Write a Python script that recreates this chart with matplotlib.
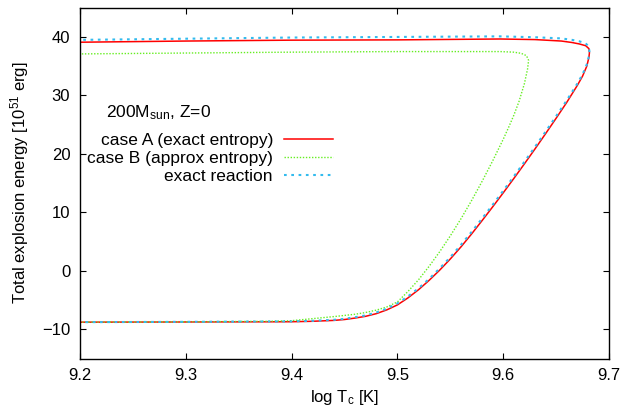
import matplotlib
matplotlib.use("Agg")
import matplotlib.pyplot as plt

plt.rcParams['font.family'] = ['Liberation Sans', 'DejaVu Sans']
plt.rcParams['mathtext.fontset'] = 'custom'
plt.rcParams['mathtext.rm'] = 'Liberation Sans'
plt.rcParams['mathtext.it'] = 'Liberation Sans:italic'

# case A (exact entropy): collapse along the bottom, bounce at the tip, expand along the top
logT_a = [9.15, 9.2, 9.3, 9.40, 9.42, 9.44, 9.45, 9.46, 9.47, 9.48, 9.49, 9.50,
          9.51, 9.52, 9.53, 9.54, 9.55, 9.56, 9.57, 9.58, 9.59, 9.60, 9.61, 9.62,
          9.63, 9.64, 9.65, 9.66, 9.67, 9.675, 9.679, 9.681, 9.6815, 9.681, 9.678,
          9.672, 9.665, 9.655, 9.630, 9.597, 9.5, 9.4, 9.3, 9.2, 9.15]
E_a = [-8.75, -8.75, -8.72, -8.68, -8.6, -8.45, -8.3, -8.05, -7.75, -7.3, -6.65, -5.8,
       -4.6, -3.2, -1.6, 0.15, 2.05, 4.1, 6.3, 8.6, 10.95, 13.35, 15.8, 18.3,
       20.85, 23.45, 26.1, 28.8, 31.7, 33.3, 35.0, 36.5, 37.3, 38.0, 38.5,
       38.8, 39.05, 39.3, 39.55, 39.65, 39.5, 39.45, 39.3, 39.1, 39.05]

# case B (approx entropy)
logT_b = [9.15, 9.2, 9.3, 9.38, 9.40, 9.42, 9.44, 9.46, 9.47, 9.48, 9.49, 9.50,
          9.51, 9.52, 9.53, 9.54, 9.55, 9.56, 9.57, 9.58, 9.59, 9.60, 9.605, 9.61,
          9.615, 9.62, 9.623, 9.624, 9.622, 9.617, 9.61, 9.597, 9.5, 9.4, 9.3, 9.2, 9.15]
E_b = [-8.75, -8.75, -8.7, -8.6, -8.5, -8.15, -7.8, -7.4, -7.1, -6.7, -6.15, -5.3,
       -3.5, -1.5, 0.8, 3.3, 6.0, 8.9, 12.0, 15.3, 18.8, 22.5, 24.5, 26.6,
       29.0, 32.0, 34.5, 36.0, 36.8, 37.2, 37.4, 37.5, 37.5, 37.4, 37.25, 37.1, 37.05]

# exact reaction
logT_r = [9.15, 9.2, 9.3, 9.40, 9.42, 9.44, 9.45, 9.46, 9.47, 9.48, 9.49, 9.50,
          9.51, 9.52, 9.53, 9.54, 9.55, 9.56, 9.57, 9.58, 9.59, 9.60, 9.61, 9.62,
          9.63, 9.64, 9.65, 9.66, 9.67, 9.675, 9.679, 9.681, 9.6815, 9.681, 9.678,
          9.672, 9.665, 9.655, 9.630, 9.597, 9.5, 9.4, 9.3, 9.2, 9.15]
E_r = [-8.75, -8.75, -8.7, -8.62, -8.52, -8.35, -8.18, -7.9, -7.6, -7.1, -6.45, -5.55,
       -4.35, -2.95, -1.35, 0.45, 2.35, 4.45, 6.65, 8.95, 11.3, 13.7, 16.15, 18.65,
       21.2, 23.8, 26.45, 29.15, 32.0, 33.6, 35.3, 36.7, 37.5, 38.3, 38.9,
       39.25, 39.5, 39.75, 39.95, 40.1, 40.0, 39.9, 39.7, 39.5, 39.45]

fig = plt.figure(figsize=(6.27, 4.16), dpi=100)
ax = fig.add_axes([0.1276, 0.1377, 0.9713 - 0.1276, 0.9815 - 0.1377])

ax.plot(logT_a, E_a, color='#ff0000', lw=1.1, label='case A (exact entropy)')
ax.plot(logT_b, E_b, color='#66ee22', lw=1.0, ls=(0, (1, 1.2)), label='case B (approx entropy)')
ax.plot(logT_r, E_r, color='#33bbee', lw=1.5, ls=(0, (1.3, 2.2)), label='exact reaction')

ax.set_xlim(9.2, 9.7)
ax.set_ylim(-15, 45)
ax.set_xticks([9.2, 9.3, 9.4, 9.5, 9.6, 9.7])
ax.set_yticks([-10, 0, 10, 20, 30, 40])
ax.tick_params(direction='in', top=True, right=True, length=4, width=0.8, labelsize=12, pad=7)
for s in ax.spines.values():
    s.set_linewidth(1.0)

ax.set_xlabel(r'log T$\mathregular{_c}$ [K]', fontsize=12, labelpad=3)
ax.set_ylabel(r'Total explosion energy [10$\mathregular{^{51}}$ erg]', fontsize=12, labelpad=8)

ax.text(0.049, 0.70, r'200M$\mathregular{_{sun}}$, Z=0', transform=ax.transAxes,
        fontsize=12.5, ha='left', va='center')

ax.legend(loc='upper right', bbox_to_anchor=(0.478, 0.643), frameon=False, markerfirst=False,
          fontsize=12.5, handlelength=2.8, handletextpad=0.65, labelspacing=0.17,
          borderpad=0, borderaxespad=0)

fig.savefig('out.png', dpi=100)
